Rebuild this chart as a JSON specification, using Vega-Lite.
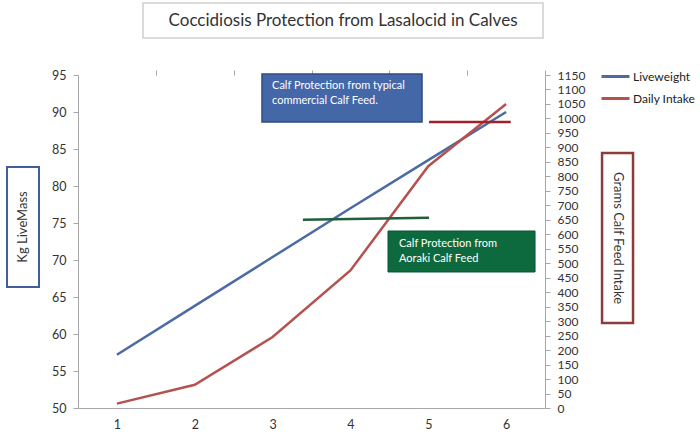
{
  "$schema": "https://vega.github.io/schema/vega-lite/v6.json",
  "width": 467,
  "height": 333,
  "autosize": "none",
  "padding": {"left": 78, "top": 75, "right": 155, "bottom": 34},
  "background": "white",
  "config": {
    "view": {"stroke": null},
    "font": "Lato",
    "axis": {"grid": false, "labelFont": "Lato", "labelFontSize": 12.5, "labelColor": "#333333", "domainColor": "#a6a6a6", "tickColor": "#a6a6a6", "tickSize": 5},
    "legend": {"labelFont": "Lato"}
  },
  "datasets": {
    "series": [
      {"day": 1, "weight": 57.2, "intake": 15},
      {"day": 2, "weight": 63.8, "intake": 80},
      {"day": 3, "weight": 70.4, "intake": 245},
      {"day": 4, "weight": 77.0, "intake": 475},
      {"day": 5, "weight": 83.5, "intake": 835},
      {"day": 6, "weight": 90.0, "intake": 1050}
    ]
  },
  "data": {"name": "series"},
  "layer": [
    {
      "layer": [
        {
          "mark": {"type": "line", "strokeWidth": 2.5},
          "encoding": {
            "x": {"field": "day", "type": "quantitative", "scale": {"domain": [0.5, 6.5], "nice": false, "zero": false},
              "axis": {"values": [1, 2, 3, 4, 5, 6], "ticks": false, "labelPadding": 10, "title": null}},
            "y": {"field": "weight", "type": "quantitative", "scale": {"domain": [50, 95], "zero": false, "nice": false},
              "axis": {"values": [50, 55, 60, 65, 70, 75, 80, 85, 90, 95], "labelPadding": 7, "title": null}},
            "color": {"datum": "Liveweight", "type": "nominal",
              "scale": {"domain": ["Liveweight", "Daily Intake"], "range": ["#4C6AA6", "#B5524F"]},
              "legend": {"orient": "none", "legendX": 522, "legendY": -14, "title": null, "symbolType": "stroke", "symbolSize": 784, "symbolStrokeWidth": 3, "labelFontSize": 12, "labelColor": "#222222", "rowPadding": -3, "padding": 0, "labelOffset": 2}}
          }
        }
      ]
    },
    {
      "layer": [
        {
          "mark": {"type": "line", "strokeWidth": 2.5},
          "encoding": {
            "x": {"field": "day", "type": "quantitative", "scale": {"domain": [0.5, 6.5], "nice": false, "zero": false},
              "axis": {"values": [1.5, 2.5, 3.5, 4.5, 5.5, 6.5], "labels": false, "domain": false, "title": null}},
            "y": {"field": "intake", "type": "quantitative", "scale": {"domain": [0, 1150], "zero": false, "nice": false},
              "axis": {"orient": "right", "format": "d", "labelFontSize": 12, "values": [0, 50, 100, 150, 200, 250, 300, 350, 400, 450, 500, 550, 600, 650, 700, 750, 800, 850, 900, 950, 1000, 1050, 1100, 1150], "labelPadding": 7, "title": null}},
            "color": {"datum": "Daily Intake", "type": "nominal"}
          }
        },
        {
          "data": {"values": [{"from": 3.39, "to": 5.01, "start": 650, "end": 657}, {"from": 5.01, "to": 6.06, "start": 988, "end": 988}]},
          "mark": {"type": "rule", "strokeWidth": 2.5},
          "encoding": {
            "x": {"field": "from", "type": "quantitative",
              "axis": {"values": [1.5, 2.5, 3.5, 4.5, 5.5, 6.5], "labels": false, "domain": false, "title": null}},
            "x2": {"field": "to"},
            "y": {"field": "start", "type": "quantitative",
              "axis": {"orient": "right", "format": "d", "labelFontSize": 12, "values": [0, 50, 100, 150, 200, 250, 300, 350, 400, 450, 500, 550, 600, 650, 700, 750, 800, 850, 900, 950, 1000, 1050, 1100, 1150], "labelPadding": 7, "title": null}},
            "y2": {"field": "end"},
            "stroke": {"field": "from", "type": "nominal", "scale": {"domain": [3.39, 5.01], "range": ["#1F5F3A", "#A3202B"]}, "legend": null}
          }
        }
      ]
    },
    {
      "layer": [
        {
          "data": {"values": [{"x1": 1.335, "x2": 6.475, "y1": 100.0, "y2": 104.73}]},
          "mark": {"type": "rect", "fill": "white", "stroke": "#cfcfcf", "strokeWidth": 1.5},
          "encoding": {
            "x": {"field": "x1", "type": "quantitative", "scale": {"domain": [0.5, 6.5], "nice": false, "zero": false}, "axis": null},
            "x2": {"field": "x2"},
            "y": {"field": "y1", "type": "quantitative", "scale": {"domain": [50, 95], "zero": false, "nice": false}, "axis": null},
            "y2": {"field": "y2"}
          }
        },
        {
          "data": {"values": [{"x": 3.905, "y": 102.3, "label": "Coccidiosis Protection from Lasalocid in Calves"}]},
          "mark": {"type": "text", "fontSize": 17, "color": "#333333", "align": "center", "baseline": "middle"},
          "encoding": {
            "x": {"field": "x", "type": "quantitative", "axis": null},
            "y": {"field": "y", "type": "quantitative", "axis": null},
            "text": {"field": "label"}
          }
        },
        {
          "data": {"values": [{"x1": -0.412, "x2": -0.001, "y1": 66.35, "y2": 82.57}]},
          "mark": {"type": "rect", "fill": "white", "stroke": "#3F5E9A", "strokeWidth": 2},
          "encoding": {
            "x": {"field": "x1", "type": "quantitative", "axis": null},
            "x2": {"field": "x2"},
            "y": {"field": "y1", "type": "quantitative", "axis": null},
            "y2": {"field": "y2"}
          }
        },
        {
          "data": {"values": [{"x": -0.207, "y": 74.46, "label": "Kg   LiveMass"}]},
          "mark": {"type": "text", "fontSize": 13, "color": "#333333", "align": "center", "baseline": "middle", "angle": 270},
          "encoding": {
            "x": {"field": "x", "type": "quantitative", "axis": null},
            "y": {"field": "y", "type": "quantitative", "axis": null},
            "text": {"field": "label"}
          }
        },
        {
          "data": {"values": [{"x1": 7.233, "x2": 7.631, "y1": 61.49, "y2": 84.46}]},
          "mark": {"type": "rect", "fill": "white", "stroke": "#8E3B3B", "strokeWidth": 2.5},
          "encoding": {
            "x": {"field": "x1", "type": "quantitative", "axis": null},
            "x2": {"field": "x2"},
            "y": {"field": "y1", "type": "quantitative", "axis": null},
            "y2": {"field": "y2"}
          }
        },
        {
          "data": {"values": [{"x": 7.432, "y": 72.97, "label": "Grams Calf Feed Intake"}]},
          "mark": {"type": "text", "fontSize": 13, "color": "#333333", "align": "center", "baseline": "middle", "angle": 90},
          "encoding": {
            "x": {"field": "x", "type": "quantitative", "axis": null},
            "y": {"field": "y", "type": "quantitative", "axis": null},
            "text": {"field": "label"}
          }
        },
        {
          "data": {"values": [{"x1": 2.864, "x2": 4.92, "y1": 88.65, "y2": 95.13}]},
          "mark": {"type": "rect", "fill": "#4467A8", "stroke": "#2E4C85", "strokeWidth": 1.5},
          "encoding": {
            "x": {"field": "x1", "type": "quantitative", "axis": null},
            "x2": {"field": "x2"},
            "y": {"field": "y1", "type": "quantitative", "axis": null},
            "y2": {"field": "y2"}
          }
        },
        {
          "data": {"values": [{"x": 2.993, "y": 94.32, "label": "Calf Protection from typical\ncommercial Calf Feed."}]},
          "mark": {"type": "text", "fontSize": 11, "color": "white", "align": "left", "baseline": "top", "lineBreak": "\n", "lineHeight": 15},
          "encoding": {
            "x": {"field": "x", "type": "quantitative", "axis": null},
            "y": {"field": "y", "type": "quantitative", "axis": null},
            "text": {"field": "label"}
          }
        },
        {
          "data": {"values": [{"x1": 4.483, "x2": 6.372, "y1": 68.38, "y2": 73.92}]},
          "mark": {"type": "rect", "fill": "#0D6A3F", "stroke": "#0A5532", "strokeWidth": 1},
          "encoding": {
            "x": {"field": "x1", "type": "quantitative", "axis": null},
            "x2": {"field": "x2"},
            "y": {"field": "y1", "type": "quantitative", "axis": null},
            "y2": {"field": "y2"}
          }
        },
        {
          "data": {"values": [{"x": 4.624, "y": 72.97, "label": "Calf Protection from\nAoraki Calf Feed"}]},
          "mark": {"type": "text", "fontSize": 11, "color": "white", "align": "left", "baseline": "top", "lineBreak": "\n", "lineHeight": 15},
          "encoding": {
            "x": {"field": "x", "type": "quantitative", "axis": null},
            "y": {"field": "y", "type": "quantitative", "axis": null},
            "text": {"field": "label"}
          }
        }
      ]
    }
  ],
  "resolve": {"scale": {"y": "independent"}, "axis": {"x": "independent"}}
}
